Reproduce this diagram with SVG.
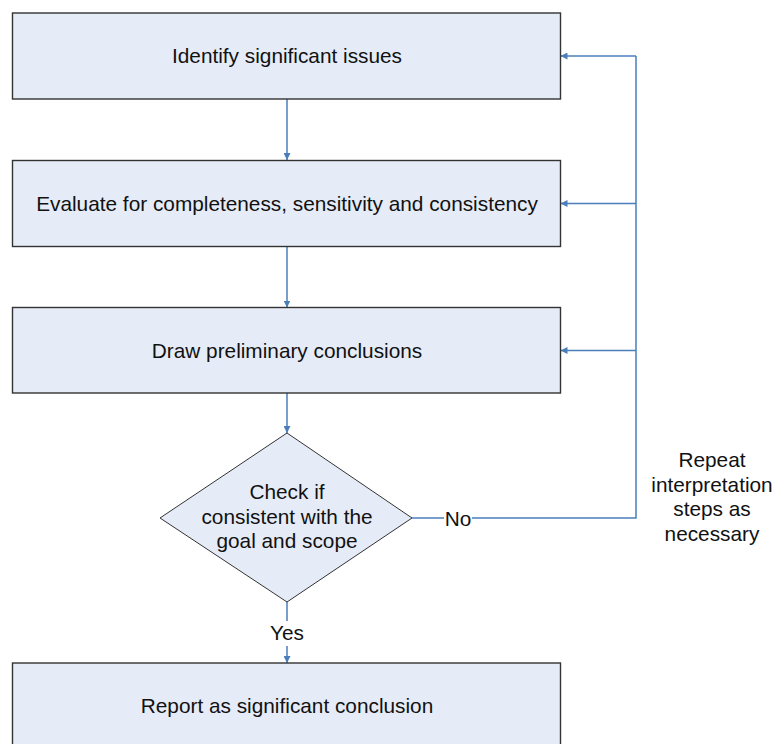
<svg xmlns="http://www.w3.org/2000/svg" width="776" height="744" viewBox="0 0 776 744">
<defs>
<style>
.box{fill:#e6ecf7;stroke:#333;stroke-width:1.4}
.t{font-family:"Liberation Sans",Arial,sans-serif;font-size:20.8px;fill:#111;text-anchor:middle}
.c{fill:none;stroke:#4a7ebb;stroke-width:1.5}
</style>
<marker id="ah" viewBox="0 0 10 10" refX="10" refY="5" markerWidth="7" markerHeight="7" markerUnits="userSpaceOnUse" orient="auto">
<path d="M0,0 L10,5 L0,10 Z" fill="#4a7ebb"/>
</marker>
</defs>
<rect width="776" height="744" fill="#fff"/>
<g id="connectors">
<line class="c" x1="287" y1="99" x2="287" y2="160" marker-end="url(#ah)"/>
<line class="c" x1="287" y1="246.5" x2="287" y2="307.5" marker-end="url(#ah)"/>
<line class="c" x1="287" y1="393" x2="287" y2="433" marker-end="url(#ah)"/>
<line class="c" x1="287" y1="602" x2="287" y2="621"/>
<line class="c" x1="287" y1="646" x2="287" y2="663" marker-end="url(#ah)"/>
<text class="t" x="287" y="640">Yes</text>
<line class="c" x1="412" y1="518" x2="444" y2="518"/>
<polyline class="c" points="472,518 636,518 636,56"/>
<text class="t" x="458" y="525.5">No</text>
<line class="c" x1="636" y1="56" x2="560.5" y2="56" marker-end="url(#ah)"/>
<line class="c" x1="636" y1="203.5" x2="560.5" y2="203.5" marker-end="url(#ah)"/>
<line class="c" x1="636" y1="350.5" x2="560.5" y2="350.5" marker-end="url(#ah)"/>
</g>
<g id="n1">
<rect class="box" x="12.5" y="13" width="548" height="86"/>
<text class="t" x="287" y="63">Identify significant issues</text>
</g>
<g id="n2">
<rect class="box" x="12.5" y="160.5" width="548" height="86"/>
<text class="t" x="287" y="211">Evaluate for completeness, sensitivity and consistency</text>
</g>
<g id="n3">
<rect class="box" x="12.5" y="307.5" width="548" height="85.5"/>
<text class="t" x="287" y="358">Draw preliminary conclusions</text>
</g>
<g id="n4">
<polygon class="box" style="stroke-width:1" points="287,433 412,518 287,602 160,518"/>
<text class="t" x="287" y="499">Check if</text>
<text class="t" x="287" y="523.5">consistent with the</text>
<text class="t" x="287" y="548">goal and scope</text>
</g>
<g id="n5">
<rect class="box" x="12.5" y="663" width="548" height="86"/>
<text class="t" x="287" y="713">Report as significant conclusion</text>
</g>
<g id="note">
<text class="t" x="712" y="467">Repeat</text>
<text class="t" x="712" y="491.5">interpretation</text>
<text class="t" x="712" y="516">steps as</text>
<text class="t" x="712" y="540.5">necessary</text>
</g>
</svg>
